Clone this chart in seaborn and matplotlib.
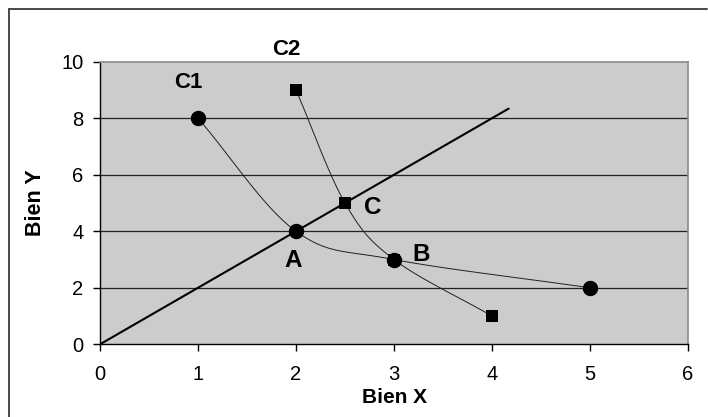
import numpy as np
import pandas as pd
import matplotlib
matplotlib.use("Agg")
import matplotlib.pyplot as plt
from matplotlib.lines import Line2D
import seaborn as sns

# Indifference curves and the expansion ray
c1_x = [1, 2, 3, 5]
c1_y = [8, 4, 3, 2]
c2_x = [2, 2.5, 3, 4]
c2_y = [9, 5, 3, 1]
ray_x = [0, 4.17]
ray_y = [0, 8.34]

x_ticks = [0, 1, 2, 3, 4, 5, 6]
y_ticks = [0, 2, 4, 6, 8, 10]

point_labels = ["A", "B", "C"]
point_label_x = [1.97, 3.28, 2.78]
point_label_y = [2.98, 3.17, 4.85]
curve_labels = ["C1", "C2"]
curve_label_x = [0.9, 1.9]
curve_label_y = [9.25, 10.42]


def smooth(xs, ys, steps=40):
    """Catmull-Rom style Bezier smoothing through the given points."""
    p = np.column_stack([xs, ys]).astype(float)
    n = len(p)
    out = [p[0]]
    for i in range(n - 1):
        p0 = p[i - 1] if i > 0 else p[i] - (p[i + 1] - p[i])
        p3 = p[i + 2] if i + 2 < n else p[i + 1] + (p[i + 1] - p[i])
        a, d = p[i], p[i + 1]
        if i == 0:
            b = a + (d - a) / 3
        else:
            b = a + (d - p0) / 6
        if i + 2 >= n:
            c = d - (d - a) / 3
        else:
            c = d - (p3 - a) / 6
        t = np.linspace(0, 1, steps)[1:, None]
        seg = ((1 - t) ** 3) * a + 3 * ((1 - t) ** 2) * t * b + 3 * (1 - t) * t ** 2 * c + t ** 3 * d
        out.extend(seg)
    out = np.array(out)
    return out[:, 0], out[:, 1]


sns.set_theme(style="white")
plt.rcParams["font.family"] = ["Liberation Sans", "DejaVu Sans"]
plt.rcParams["text.color"] = "black"
plt.rcParams["axes.labelcolor"] = "black"
plt.rcParams["xtick.color"] = "black"
plt.rcParams["ytick.color"] = "black"

fig = plt.figure(figsize=(7.08, 4.17), dpi=100)
ax = fig.add_axes([100 / 708, 1 - 344.3 / 417, 588 / 708, (344.3 - 61.7) / 417])
ax.set_facecolor("#cccccc")

for yv in y_ticks[1:-1]:
    ax.axhline(yv, color="#222222", lw=0.9, zorder=1)

# smoothed curves
for xs, ys in [(c1_x, c1_y), (c2_x, c2_y)]:
    sx, sy = smooth(xs, ys)
    sns.lineplot(x=sx, y=sy, sort=False, estimator=None, color="#202020", lw=0.7, ax=ax, zorder=2)

sns.lineplot(x=ray_x, y=ray_y, color="black", lw=1.5, ax=ax, zorder=3)

sns.scatterplot(x=c1_x, y=c1_y, marker="o", s=105, color="black", edgecolor="black", ax=ax, zorder=4)
sns.scatterplot(x=c2_x, y=c2_y, marker="s", s=75, color="black", edgecolor="black", linewidth=0, ax=ax, zorder=5)

for t, x, y in zip(point_labels, point_label_x, point_label_y):
    ax.text(x, y, t, fontsize=17.5, fontweight="bold", ha="center", va="center", zorder=6)
for t, x, y in zip(curve_labels, curve_label_x, curve_label_y):
    ax.text(x, y, t, fontsize=16, fontweight="bold", ha="center", va="center", clip_on=False, zorder=6)

ax.set_xlim(0, 6)
ax.set_ylim(0, 10)
ax.set_xticks(x_ticks)
ax.set_yticks(y_ticks)
ax.tick_params(axis="both", direction="out", length=5, width=1, color="black",
               labelsize=14.5, bottom=True, left=True)
ax.tick_params(axis="x", pad=10)
ax.tick_params(axis="y", pad=7)

for side in ["left", "bottom"]:
    ax.spines[side].set_color("black")
    ax.spines[side].set_linewidth(1.0)
for side in ["top", "right"]:
    ax.spines[side].set_color("#8a8a8a")
    ax.spines[side].set_linewidth(1.2)

ax.set_xlabel("Bien X", fontsize=15, fontweight="bold", labelpad=3)
ax.set_ylabel("Bien Y", fontsize=15.5, fontweight="bold", labelpad=11)

# chart border (top and left edges)
fig.add_artist(Line2D([9 / 708, 9 / 708], [0, 1 - 9 / 417], transform=fig.transFigure, color="#3a3a3a", lw=1.3))
fig.add_artist(Line2D([9 / 708, 707 / 708], [1 - 9 / 417, 1 - 9 / 417], transform=fig.transFigure, color="#3a3a3a", lw=1.3))

fig.savefig("out.png", dpi=100, facecolor="white")
